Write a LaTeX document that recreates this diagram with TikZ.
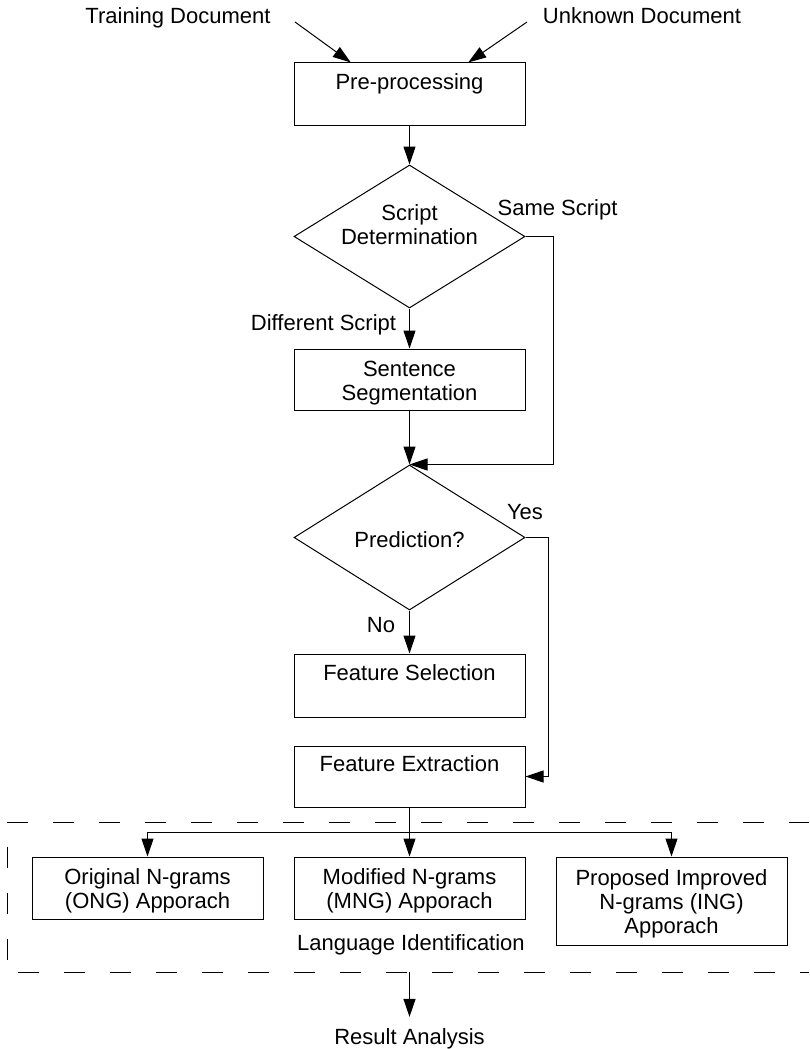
\documentclass[tikz,border=0pt]{standalone}
\usepackage{fontspec}
\setmainfont{Liberation Sans}
\usetikzlibrary{arrows.meta,shapes.geometric,calc}
\begin{document}
\begin{tikzpicture}[x=1pt,y=-1pt,
  every node/.style={font=\fontsize{22}{24}\selectfont},
  stepbox/.style={draw, line width=1pt, rectangle, minimum width=231pt, inner sep=0pt},
  decision/.style={draw, line width=1pt, diamond, minimum width=231pt, inner sep=0pt},
  lbl/.style={inner sep=0pt, text height=15.8pt, text depth=0pt},
  mlbl/.style={inner sep=0pt, align=center},
  wire/.style={line width=1pt},
  flow/.style={line width=1pt, -{Triangle[length=18pt,width=12pt]}},
  group/.style={line width=1pt, dash pattern=on 21pt off 25pt}
]
\useasboundingbox (0,0) rectangle (809,1049);

% inputs
\node[lbl] (train) at (178,16) {Training Document};
\node[lbl] (unknown) at (642,16) {Unknown Document};
\coordinate (trainStart) at (295,22);
\coordinate (unknownStart) at (527,22);

% pre-processing
\node[stepbox, minimum height=62pt] (pre) at (409.5,94) {};
\node[lbl] (preT) at (409.5,82) {Pre-processing};
\draw[flow] (trainStart) -- ($(pre.north west)!0.247!(pre.north east)$);
\draw[flow] (unknownStart) -- ($(pre.north west)!0.753!(pre.north east)$);

% script determination
\node[decision, minimum height=143pt] (sd) at (409.5,236.5) {};
\node[mlbl] (sdT) at (409.5,224.5) {Script\\Determination};
\node[lbl] (sameT) at (557.5,208) {Same Script};
\node[lbl] (diffT) at (323.5,323) {Different Script};

% sentence segmentation
\node[stepbox, minimum height=61pt] (seg) at (409.5,379.5) {};
\node[mlbl] (segT) at (409.5,383.5) {Sentence\\Segmentation};

% prediction
\node[decision, minimum height=145pt] (pred) at (409.5,537.5) {};
\node[lbl] (predT) at (409.5,540) {Prediction?};
\node[lbl] (yesT) at (525,512) {Yes};
\node[lbl] (noT) at (381,625) {No};

% features
\node[stepbox, minimum height=63pt] (fs) at (409.5,685.5) {};
\node[lbl] (fsT) at (409.5,673) {Feature Selection};
\node[stepbox, minimum height=61pt] (fe) at (409.5,776.5) {};
\node[lbl] (feT) at (409.5,764) {Feature Extraction};

% language identification approaches
\node[stepbox, minimum height=62pt] (ong) at (147.5,888) {};
\node[mlbl] (ongT) at (147.5,890.5) {Original N-grams\\(ONG) Apporach};
\node[stepbox, minimum height=62pt] (mng) at (409.5,888) {};
\node[mlbl] (mngT) at (409.5,890.5) {Modified N-grams\\(MNG) Apporach};
\node[stepbox, minimum height=88pt] (ing) at (671.5,901) {};
\node[mlbl] (ingT) at (671.5,904) {Proposed Improved\\N-grams (ING)\\Apporach};
\node[lbl] (langT) at (411,943) {Language Identification};

% result
\node[lbl] (res) at (409.5,1037) {Result Analysis};

% flow connectors
\draw[flow] (pre.south) -- (sd.north);
\draw[flow] (sd.south) -- (seg.north);
\draw[flow] (seg.south) -- (pred.north);
\draw[flow] (sd.east) -- ++(28,0) |- (pred.north);
\draw[flow] (pred.south) -- (fs.north);
\draw[flow] (pred.east) -- ++(23,0) |- (fe.east);

% branch to the three approaches
\coordinate (split) at (409.5,832);
\draw[wire] (fe.south) -- (split);
\draw[flow] (split) -- (mng.north);
\draw[flow] (split) -| (ong.north);
\draw[flow] (split) -| (ing.north);

% dashed group frame (open on the right)
\draw[group] (7,822) -- (809,822);
\draw[group, dash phase=21pt] (7,822) -- (7,972);
\draw[group, dash phase=35pt] (7,972) -- (809,972);

\coordinate (groupOut) at (409.5,972);
\draw[flow] (groupOut) -- ([yshift=12pt]res.north);
\end{tikzpicture}
\end{document}
